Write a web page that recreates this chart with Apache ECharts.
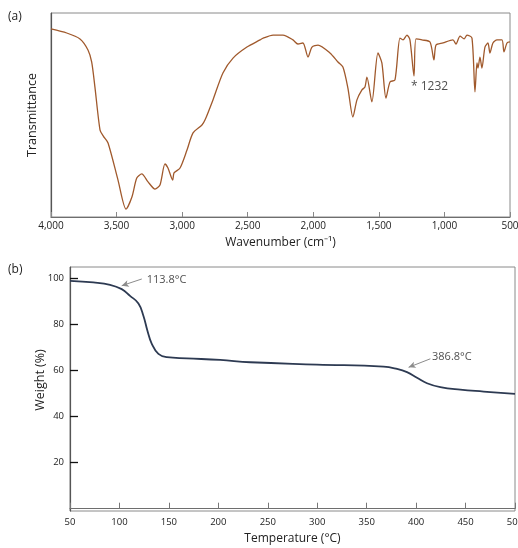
<!DOCTYPE html>
<html>
<head>
<meta charset="utf-8">
<script src="https://cdn.jsdelivr.net/npm/echarts@6/dist/echarts.min.js"></script>
<style>
html,body{margin:0;padding:0;background:#fff;overflow:hidden;width:100%;height:100%;}
#chart{width:518px;height:548px;display:block;position:absolute;left:0;top:0;}
</style>
</head>
<body>
<div id="chart"></div>
<script>
// ---- FTIR spectrum (a) ----
const ftirWavenumber = [4000,3880,3779,3718,3690,3665,3626,3600,3565,3489,3428,3383,3346,3308,3260,3207,3169,3131,3108,3072,3062,3016,2963,2917,2849,2826,2765,2689,2612,2506,2406,2382,2307,2231,2155,2117,2079,2040,2010,1964,1873,1812,1774,1736,1698,1667,1629,1606,1591,1553,1507,1477,1446,1415,1377,1339,1316,1286,1263,1232,1217,1171,1110,1080,1064,1011,935,912,881,850,828,790,767,752,744,729,714,691,668,653,630,599,561,546,523,500];
const ftirTransmittance = [92.2,90.2,87.3,81.9,76.0,63.7,42.6,39.5,36.3,18.1,3.9,9.8,19.1,21.1,17.2,13.7,15.7,26.0,24.0,18.1,21.6,24.0,32.8,41.2,45.1,47.5,57.4,70.6,77.9,83.3,86.8,87.7,89.2,89.2,86.8,84.8,85.3,78.4,83.3,84.3,80.4,76.0,73.5,63.2,49.0,57.4,62.3,63.7,68.6,56.4,80.4,75.5,58.3,66.2,67.2,87.7,86.8,89.2,86.8,69.1,87.3,86.8,85.8,77.0,84.3,85.3,86.8,84.8,88.7,87.3,89.2,87.7,61.3,75.5,73.0,78.4,73.0,83.3,85.3,80.4,85.3,86.8,86.8,80.9,85.3,85.8];
const ftirXTicks = [4000,3500,3000,2500,2000,1500,1000,500];
const ftirPeakLabel = ['* 1232'];
const ftirPeakLabelPos = [1255, 63.7];

// ---- TGA curve (b) ----
const tgaTemperature = [50,73.6,90.5,102.3,110.7,119.2,124.2,128.3,132.7,139.4,147.9,168.1,201.8,232.2,299.7,367.1,380.7,390.8,400.9,411.0,424.5,444.7,468.3,500];
const tgaWeight = [98.8,98.1,97.1,95.2,92.3,89.0,83.7,77.2,71.5,67.1,65.7,65.2,64.5,63.5,62.5,61.6,60.6,59.2,56.8,54.4,52.7,51.6,50.8,49.8];
const tgaYTicks = [20,40,60,80,100];
const tgaXTicks = [50,100,150,200,250,300,350,400,450,500];
const tgaNoteText = ['113.8°C','386.8°C'];
const tgaNoteLabelPos = [[127.6,99.3],[416.1,65.7]];
const tgaArrowTail = [[122.6,99.6],[414.4,65.0]];
const tgaArrowTip = [[102.3,96.7],[392.4,61.3]];

const FONT = 'Open Sans';
const chart = echarts.init(document.getElementById('chart'), null, {renderer:'canvas', width:518, height:548});

const option = {
  backgroundColor:'#fff',
  animation:false,
  textStyle:{fontFamily:FONT},
  graphic:[
    {type:'text', left:8, top:11, style:{text:'(a)', font:'12px "Open Sans"', fill:'#222'}},
    {type:'text', left:8, top:264, style:{text:'(b)', font:'12px "Open Sans"', fill:'#222'}}
  ],
  grid:[
    {left:51, top:13, right:8, height:204, show:true, borderColor:'#8a8a8a', borderWidth:1,
      containLabel:false, outerBoundsMode:'none'},
    {left:70, top:267, right:3, height:244, show:true, borderColor:'#8a8a8a', borderWidth:1,
      containLabel:false, outerBoundsMode:'none'}
  ],
  xAxis:[
    {
      gridIndex:0, type:'value', min:500, max:4000, inverse:true,
      axisTick:{show:true, inside:true, length:5, lineStyle:{color:'#888'}, customValues:ftirXTicks},
      axisLabel:{color:'#222', fontSize:10, margin:4, fontFamily:FONT, customValues:ftirXTicks,
        formatter:v=>v.toLocaleString('en-US')},
      axisLine:{lineStyle:{color:'#6e6e6e', width:1.2}},
      splitLine:{show:false},
      name:'Wavenumber (cm⁻¹)', nameLocation:'middle', nameGap:20, nameMoveOverlap:false,
      nameTextStyle:{color:'#222', fontSize:12, fontFamily:FONT}
    },
    {
      gridIndex:1, type:'value', min:50, max:500,
      axisTick:{show:true, inside:true, length:6, lineStyle:{color:'#777'}, customValues:tgaXTicks},
      axisLabel:{color:'#222', fontSize:9.5, margin:6, fontFamily:FONT, customValues:tgaXTicks},
      axisLine:{lineStyle:{color:'#6e6e6e', width:1.2}},
      splitLine:{show:false},
      name:'Temperature (°C)', nameLocation:'middle', nameGap:22, nameMoveOverlap:false,
      nameTextStyle:{color:'#222', fontSize:12, fontFamily:FONT}
    }
  ],
  yAxis:[
    {
      gridIndex:0, type:'value', min:0, max:100,
      axisTick:{show:false}, axisLabel:{show:false},
      axisLine:{show:true, lineStyle:{color:'#555', width:1.2}},
      splitLine:{show:false},
      name:'Transmittance', nameLocation:'middle', nameGap:12, nameMoveOverlap:false,
      nameTextStyle:{color:'#222', fontSize:12.5, fontFamily:FONT}
    },
    {
      gridIndex:1, type:'value', min:-1, max:104.8,
      axisTick:{show:true, inside:true, length:8, lineStyle:{color:'#111', width:1.3}, customValues:tgaYTicks},
      axisLabel:{color:'#222', fontSize:9.5, margin:6, fontFamily:FONT, customValues:tgaYTicks},
      axisLine:{show:true, lineStyle:{color:'#555', width:1.2}},
      splitLine:{show:false},
      name:'Weight (%)', nameLocation:'middle', nameGap:23, nameMoveOverlap:false,
      nameTextStyle:{color:'#222', fontSize:12.5, fontFamily:FONT, padding:[0,0,0,18]}
    }
  ],
  series:[
    {
      type:'line', xAxisIndex:0, yAxisIndex:0, showSymbol:false, smooth:0.25,
      data:ftirWavenumber.map((w,i)=>[w, ftirTransmittance[i]]),
      lineStyle:{color:'#a0592c', width:1.3}, silent:true
    },
    {
      type:'scatter', xAxisIndex:0, yAxisIndex:0, symbolSize:0, silent:true,
      data:[ftirPeakLabelPos],
      label:{show:true, position:'right', distance:0, formatter:()=>ftirPeakLabel[0],
        color:'#222', fontSize:12, fontFamily:FONT}
    },
    {
      type:'line', xAxisIndex:1, yAxisIndex:1, showSymbol:false, smooth:0.45,
      data:tgaTemperature.map((t,i)=>[t, tgaWeight[i]]),
      lineStyle:{color:'#2d3a52', width:1.8}, silent:true,
      markLine:{
        silent:true, symbol:['none','arrow'], symbolSize:[5,7],
        lineStyle:{color:'#8c8c8c', width:1, type:'solid'},
        label:{show:false},
        data:tgaArrowTail.map((p,i)=>[{coord:p},{coord:tgaArrowTip[i]}])
      }
    },
    {
      type:'scatter', xAxisIndex:1, yAxisIndex:1, symbolSize:0, silent:true,
      data:tgaNoteLabelPos.map((p,i)=>({value:p, name:tgaNoteText[i]})),
      label:{show:true, position:'right', distance:0, formatter:p=>p.name,
        color:'#222', fontSize:11, fontFamily:FONT}
    }
  ]
};
chart.setOption(option);
</script>
</body>
</html>
